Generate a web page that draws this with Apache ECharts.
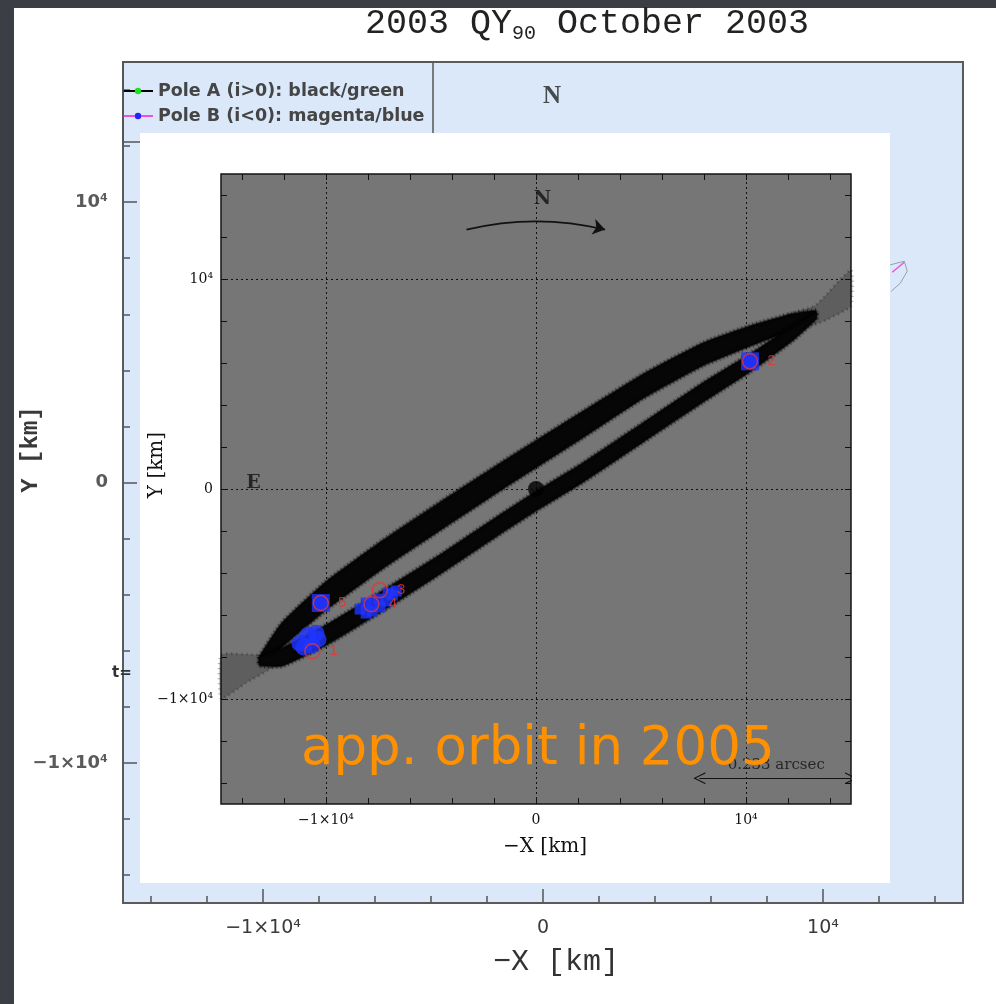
<!DOCTYPE html>
<html>
<head>
<meta charset="utf-8">
<title>2003 QY90 October 2003</title>
<script src="https://cdn.jsdelivr.net/npm/echarts@6/dist/echarts.min.js"></script>
<style>
  html, body { margin: 0; padding: 0; width: 996px; height: 1004px; overflow: hidden; background: #3b3e45; }
  #sheet { position: absolute; left: 14px; top: 8px; right: 0; bottom: 0; background: #ffffff; }
  #wide  { position: absolute; left: 0; top: 0; width: 996px; height: 1004px; }
  #inset { position: absolute; left: 140px; top: 133px; width: 750px; height: 750px; background: #ffffff; }
</style>
</head>
<body>
<div id="sheet"></div>
<div id="wide"></div>
<div id="inset"></div>
<script>
// ---------- axis ticks (km) ----------
const majorTicks = [-10000, 0, 10000];
const majorTickText = ['\u22121\u00d710\u2074', '0', '10\u2074'];
const minorTicks = [-14000, -12000, -10000, -8000, -6000, -4000, -2000, 0,
                    2000, 4000, 6000, 8000, 10000, 12000, 14000];
const gridValues = [-10000, 0, 10000];

// ---------- October 2003 solutions (wide frame) ----------
const poleALegend = 'Pole A (i>0): black/green';
const poleBLegend = 'Pole B (i<0): magenta/blue';
const poleATrack = [];
const poleBTrack = [[12473, 7500], [12903, 7857]];
const poleBOutline = [[12079, 7679], [12903, 7893], [13010, 7536], [12760, 7107], [12437, 6821]];
const wideCompassText = ['N'];
const wideCompassPos = [[323, 13785]];

// ---------- apparent orbit in 2005 (inset) ----------
// dense part of the two arcs of the projected orbit, edges from west to east
const upperArcTop = [[-13155, -7973], [-12103, -6386], [-10000, -4417], [-7323, -2466], [-4455, -554],
  [-1587, 1300], [0, 2300], [2237, 3700], [5105, 5468], [7973, 6960], [10191, 7763], [12180, 8336], [13327, 8489]];
const upperArcBottom = [[-13155, -8355], [-12103, -7533], [-10000, -5755], [-7323, -3805], [-4455, -1893],
  [-1587, 0], [0, 1020], [2237, 2450], [5105, 4321], [7973, 5889], [10191, 6807], [12180, 7572], [13327, 8183]];
const lowerArcTop = [[-13155, -8011], [-12103, -7591], [-10000, -6482], [-7323, -4856], [-4455, -3059],
  [-1587, -1147], [0, -120], [2237, 1243], [5105, 3155], [7973, 5067], [10191, 6424], [12180, 7724], [13327, 8394]];
const lowerArcBottom = [[-13155, -8394], [-12103, -8432], [-10000, -7438], [-7323, -5812], [-4455, -3977],
  [-1587, -2065], [0, -1040], [2237, 325], [5105, 2237], [7973, 4149], [10191, 5583], [12180, 7036], [13327, 8088]];
// sparse spread of solutions beyond the two tips
const westTail = [[-12103, -7700], [-13155, -7900], [-15000, -7900], [-15000, -10000], [-13824, -9254], [-12485, -8451]];
const eastTail = [[11797, 8241], [13300, 8750], [15000, 10440], [15000, 8719], [13500, 7900], [12371, 7572]];

const primaryPos = [[0, 0]];
const epoch1Cloud = [[-11243, -7342], [-10860, -6960], [-10478, -6864], [-11051, -7533], [-10382, -7151], [-10669, -7438]];
const epoch4Cloud = [[-8375, -5717], [-8088, -5908], [-7801, -5812], [-7418, -5621], [-7132, -5334],
  [-6845, -5048], [-6654, -4856], [-8088, -5430], [-7514, -5239], [-7036, -4952]];
const boxedEpochs = [[-10248, -5430], [10191, 6080]];
const epochDots = [[-10248, -5430], [10191, 6080], [-7839, -5487]];
const epochNames = ['1', '2', '3', '4', '5'];
const epochPos = [[-10650, -7725], [10191, 6080], [-7438, -4818], [-7839, -5487], [-10248, -5430]];

const northArrow = [[-3308, 12352], [3289, 12352]];
const scaleBar = [[7781, -13771], [15000, -13771]];
const compassText = ['N', 'E'];
const compassPos = [[305, 13795], [-13448, 276]];
const scaleText = ['0.233 arcsec'];
const scaleTextPos = [[11440, -13150]];

function tickText(v) {
  const i = majorTicks.indexOf(v);
  return i >= 0 ? majorTickText[i] : '';
}

// ================= wide frame =================
const wide = echarts.init(document.getElementById('wide'));
const wideTickColor = '#555555';
function wideAxis(dim, major) {
  const isX = dim === 'x';
  const a = {
    type: 'value', min: -15000, max: 15000,
    position: isX ? 'bottom' : 'left',
    axisLine: { show: false, onZero: false },
    splitLine: { show: false },
    axisTick: {
      inside: true, length: major ? 14 : 7,
      customValues: major ? majorTicks : minorTicks,
      lineStyle: { color: wideTickColor, width: 1.5 }
    },
    axisLabel: { show: false }
  };
  if (major) {
    a.axisLabel = isX
      ? { show: true, customValues: majorTicks, formatter: tickText, margin: 16,
          fontFamily: 'DejaVu Sans', fontSize: 19, color: '#3a3a3a' }
      : { show: true, customValues: majorTicks, formatter: tickText, margin: 15,
          fontFamily: 'DejaVu Sans', fontWeight: 'bold', fontSize: 18, color: '#5a5a5a' };
    a.name = isX ? '\u2212X [km]' : 'Y [km]';
    a.nameLocation = 'middle';
    a.nameMoveOverlap = false;
    a.nameGap = isX ? 44 : 80;
    a.nameTextStyle = isX
      ? { fontFamily: 'Liberation Mono', fontSize: 30, color: '#333333', padding: [0, 0, 0, 26] }
      : { fontFamily: 'Liberation Mono', fontWeight: 'bold', fontSize: 24, color: '#3a3a3a', padding: [0, 0, 0, 66] };
  }
  return a;
}

wide.setOption({
  animation: false,
  title: {
    text: '2003 QY{sub|90} October 2003',
    left: 360, top: -1,
    textStyle: {
      fontFamily: 'Liberation Mono', fontSize: 35, fontWeight: 'normal', color: '#222222', lineHeight: 40,
      rich: { sub: { fontFamily: 'Liberation Mono', fontSize: 20, color: '#222222', verticalAlign: 'bottom', lineHeight: 14 } }
    }
  },
  grid: {
    left: 123, top: 62, width: 840, height: 841, show: true,
    backgroundColor: '#dae8fa', borderColor: '#5b5b5b', borderWidth: 2,
    outerBoundsMode: 'none'
  },
  legend: {
    orient: 'vertical', left: 117, top: 77, itemWidth: 30, itemHeight: 8, itemGap: 7,
    selectedMode: false, data: [poleALegend, poleBLegend],
    textStyle: { fontFamily: 'DejaVu Sans', fontWeight: 'bold', fontSize: 17.5, color: '#454545' }
  },
  xAxis: [wideAxis('x', false), wideAxis('x', true)],
  yAxis: [wideAxis('y', false), wideAxis('y', true)],
  graphic: [
    { type: 'rect', shape: { x: 123, y: 62, width: 310, height: 80 },
      style: { fill: 'none', stroke: '#555555', lineWidth: 1.5 }, z: 5 },
    { type: 'text', x: 112, y: 673,
      style: { text: 't=', font: 'bold 15px "DejaVu Sans"', fill: '#333333', verticalAlign: 'middle' }, z: 5 }
  ],
  series: [
    { name: poleALegend, type: 'line', xAxisIndex: 1, yAxisIndex: 1, data: poleATrack,
      symbol: 'circle', symbolSize: 6, showSymbol: false,
      lineStyle: { color: '#000000', width: 1 }, itemStyle: { color: '#1fe01f' } },
    { name: poleBLegend, type: 'line', xAxisIndex: 1, yAxisIndex: 1, data: poleBTrack,
      symbol: 'circle', symbolSize: 6, showSymbol: false,
      lineStyle: { color: '#f04fe0', width: 1.5 }, itemStyle: { color: '#2424ff' } },
    { type: 'line', xAxisIndex: 1, yAxisIndex: 1, data: poleBOutline, symbol: 'none', silent: true,
      lineStyle: { color: '#9aa0a8', width: 1 } },
    { type: 'scatter', xAxisIndex: 1, yAxisIndex: 1, silent: true, symbol: 'circle', symbolSize: 1,
      itemStyle: { color: 'rgba(0,0,0,0)' },
      data: wideCompassText.map((t, i) => ({ name: t, value: wideCompassPos[i] })),
      label: { show: true, position: 'inside', formatter: '{b}',
               fontFamily: 'Liberation Serif', fontWeight: 'bold', fontSize: 25, color: '#222222' } }
  ]
});

// ================= inset: 2005 =================
const inset = echarts.init(document.getElementById('inset'));
const ink = '#111111';
function insetAxis(dim, main) {
  const isX = dim === 'x';
  const a = {
    type: 'value', min: -15000, max: 15000,
    position: isX ? (main ? 'bottom' : 'top') : (main ? 'left' : 'right'),
    axisLine: { show: false, onZero: false },
    splitLine: { show: false },
    axisTick: { inside: true, length: 6, customValues: minorTicks, lineStyle: { color: ink, width: 1 } },
    axisLabel: { show: false }
  };
  if (main) {
    a.axisLabel = { show: true, customValues: majorTicks, formatter: tickText, margin: isX ? 9 : 8,
                    fontFamily: 'DejaVu Serif', fontSize: 14, color: ink };
    a.name = isX ? '\u2212X [km]' : 'Y [km]';
    a.nameLocation = 'middle';
    a.nameMoveOverlap = false;
    a.nameGap = isX ? 33 : 54;
    a.nameTextStyle = { fontFamily: 'DejaVu Serif', fontSize: 20, color: ink,
                        padding: isX ? [0, 0, 0, 18] : [0, 0, 0, 48] };
  }
  return a;
}

function polygonSeries(polys, fill, z) {
  return {
    type: 'custom', xAxisIndex: 0, yAxisIndex: 0, silent: true, z: z,
    data: polys.map((p, i) => [i, 0]),
    renderItem: function (params, api) {
      const pts = polys[params.dataIndex].map(p => api.coord(p));
      return { type: 'polygon', shape: { points: pts, smooth: 0.15 }, style: fill };
    }
  };
}

const arcPolygons = [
  upperArcTop.concat(upperArcBottom.slice().reverse()),
  lowerArcTop.concat(lowerArcBottom.slice().reverse())
];
const tailPolygons = [westTail, eastTail];
const blue = '#1f34ff';
const red = '#e8342e';

inset.setOption({
  animation: false,
  grid: {
    left: 81, top: 41, width: 630, height: 630, show: true,
    backgroundColor: '#767676', borderColor: '#151515', borderWidth: 1.5,
    outerBoundsMode: 'none'
  },
  xAxis: [insetAxis('x', true), insetAxis('x', false)],
  yAxis: [insetAxis('y', true), insetAxis('y', false)],
  graphic: [
    { type: 'text', x: 161, y: 617, z: 100,
      style: { text: 'app. orbit in 2005', font: '53px "DejaVu Sans"', fill: '#ff9100',
               align: 'left', verticalAlign: 'middle' } }
  ],
  series: [
    polygonSeries(tailPolygons, { fill: 'rgba(0,0,0,0.2)', stroke: 'rgba(0,0,0,0.3)', lineWidth: 3, lineDash: [1, 4] }, 2),
    // speckled fringe of the solution cloud
    polygonSeries(arcPolygons, { fill: 'none', stroke: 'rgba(0,0,0,0.45)', lineWidth: 5, lineDash: [1, 3], lineJoin: 'round' }, 2),
    polygonSeries(arcPolygons, { fill: '#060606', stroke: 'rgba(0,0,0,0.4)', lineWidth: 2,
                                 lineJoin: 'round', shadowColor: 'rgba(0,0,0,0.5)', shadowBlur: 3 }, 2),
    { type: 'scatter', xAxisIndex: 0, yAxisIndex: 0, data: primaryPos, z: 3, silent: true,
      symbol: 'circle', symbolSize: 16, itemStyle: { color: '#000000' },
      markLine: {
        silent: true, z: 1, animation: false, symbol: ['none', 'none'], label: { show: false },
        lineStyle: { color: ink, type: [2, 3], width: 1 },
        emphasis: { disabled: true },
        data: gridValues.map(v => ({ xAxis: v })).concat(gridValues.map(v => ({ yAxis: v })))
      } },
    { type: 'scatter', xAxisIndex: 0, yAxisIndex: 0, data: epoch1Cloud, z: 3, silent: true,
      symbol: 'circle', symbolSize: 17, itemStyle: { color: blue } },
    { type: 'scatter', xAxisIndex: 0, yAxisIndex: 0, data: epoch4Cloud, z: 3, silent: true,
      symbol: 'rect', symbolSize: 11, itemStyle: { color: blue } },
    { type: 'scatter', xAxisIndex: 0, yAxisIndex: 0, data: boxedEpochs, z: 3, silent: true,
      symbol: 'rect', symbolSize: 18, itemStyle: { color: blue } },
    { type: 'scatter', xAxisIndex: 0, yAxisIndex: 0, data: epochDots, z: 4, silent: true,
      symbol: 'circle', symbolSize: 16, itemStyle: { color: blue } },
    { type: 'scatter', xAxisIndex: 0, yAxisIndex: 0, z: 5, silent: true,
      data: epochNames.map((n, i) => ({ name: n, value: epochPos[i] })),
      symbol: 'circle', symbolSize: 15,
      itemStyle: { color: 'rgba(0,0,0,0)', borderColor: red, borderWidth: 1.5 },
      label: { show: true, position: 'right', distance: 9, formatter: '{b}',
               fontFamily: 'Liberation Sans', fontSize: 15, color: red } },
    { type: 'lines', coordinateSystem: 'cartesian2d', xAxisIndex: 0, yAxisIndex: 0, z: 4, silent: true,
      data: [{ coords: northArrow }],
      symbol: ['none', 'arrow'], symbolSize: [8, 12],
      lineStyle: { color: ink, width: 1.8, curveness: 0.12, opacity: 1 } },
    { type: 'lines', coordinateSystem: 'cartesian2d', xAxisIndex: 0, yAxisIndex: 0, z: 4, silent: true,
      data: [{ coords: scaleBar }],
      symbol: ['path://M0,12 L6,0 L12,12 L10.8,12 L6,2.4 L1.2,12 Z', 'path://M0,12 L6,0 L12,12 L10.8,12 L6,2.4 L1.2,12 Z'],
      symbolSize: [12, 12],
      lineStyle: { color: ink, width: 1, curveness: 0, opacity: 1 } },
    { type: 'scatter', xAxisIndex: 0, yAxisIndex: 0, z: 6, silent: true,
      symbol: 'circle', symbolSize: 1, itemStyle: { color: 'rgba(0,0,0,0)' },
      data: compassText.map((t, i) => ({ name: t, value: compassPos[i] })),
      label: { show: true, position: 'inside', formatter: '{b}', color: ink,
               fontFamily: 'DejaVu Serif', fontWeight: 'bold', fontSize: 19 } },
    { type: 'scatter', xAxisIndex: 0, yAxisIndex: 0, z: 6, silent: true,
      symbol: 'circle', symbolSize: 1, itemStyle: { color: 'rgba(0,0,0,0)' },
      data: scaleText.map((t, i) => ({ name: t, value: scaleTextPos[i] })),
      label: { show: true, position: 'inside', formatter: '{b}', color: ink,
               fontFamily: 'DejaVu Serif', fontSize: 15 } }
  ]
});
</script>
</body>
</html>
